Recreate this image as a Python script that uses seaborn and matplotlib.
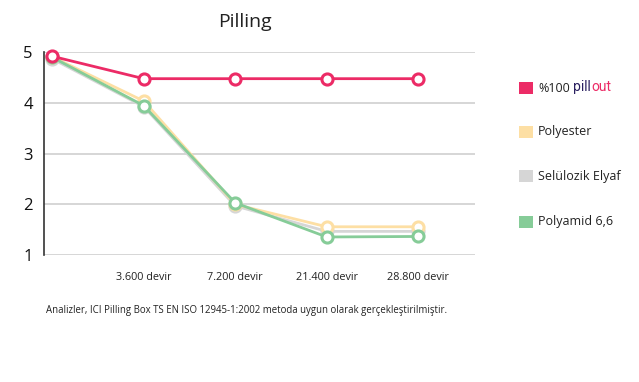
import matplotlib
matplotlib.use("Agg")
import matplotlib.pyplot as plt
import seaborn as sns
import pandas as pd
from matplotlib.patches import Rectangle

categories = ["", "3.600 devir", "7.200 devir", "21.400 devir", "28.800 devir"]
pillout = [4.91, 4.47, 4.47, 4.47, 4.47]
polyester = [4.90, 4.03, 2.00, 1.56, 1.56]
seluloz = [4.86, 3.92, 1.97, 1.47, 1.47]
polyamid = [4.89, 3.94, 2.03, 1.36, 1.37]

series_names = ["%100 pillout", "Polyester", "Selülozik Elyaf", "Polyamid 6,6"]
colors = ["#EC2B66", "#FDDFA4", "#D6D6D6", "#86CC98"]

rows = []
for name, vals in zip(series_names, [pillout, polyester, seluloz, polyamid]):
    for i, v in enumerate(vals):
        rows.append({"pos": i, "value": v, "series": name})
df = pd.DataFrame(rows)

sns.set_style("white")
plt.rcParams["font.family"] = ["Open Sans", "DejaVu Sans"]

fig = plt.figure(figsize=(6.39, 3.82), dpi=100)
ax = fig.add_axes([44/639, 1-255.3/382, (475-44)/639, (255.3-51.7)/382])

draw_order = ["Selülozik Elyaf", "Polyester", "Polyamid 6,6", "%100 pillout"]
for name in draw_order:
    c = colors[series_names.index(name)]
    sub = df[df.series == name]
    sns.lineplot(data=sub, x="pos", y="value", ax=ax, color=c, linewidth=2.0,
                 marker="o", markersize=8, markerfacecolor="white",
                 markeredgecolor=c, markeredgewidth=2.2, clip_on=False,
                 legend=False, zorder=3)

ax.set_xlim(-0.09, 4.62)
ax.set_ylim(1, 5)
ax.set_yticks([1, 2, 3, 4, 5])
ax.set_xticks(range(len(categories)))
ax.set_xticklabels(categories, fontsize=7.8, color="#222222")
ax.tick_params(axis="x", length=0, pad=12)
ax.tick_params(axis="y", length=5, width=1.2, color="#333333", labelsize=12,
               labelcolor="#111111", pad=3)
for v in [1, 2, 3, 4, 5]:
    ax.axhline(v, color="#D0D0D0", linewidth=1.2, zorder=1)
ax.set_xlabel("")
ax.set_ylabel("")
for s in ["top", "right", "bottom"]:
    ax.spines[s].set_visible(False)
ax.spines["left"].set_color("#333333")
ax.spines["left"].set_linewidth(1.2)

fig.text(245/639, 1-22/382, "Pilling", ha="center", va="center", fontsize=14,
         color="#222222")
fig.text(46/639, 1-310/382,
         "Analizler, ICI Pilling Box TS EN ISO 12945-1:2002 metoda uygun olarak gerçekleştirilmiştir.",
         ha="left", va="center", fontsize=6.95, color="#222222")

legend_y = [88, 132, 176, 222]
labels = ["%100", "Polyester", "Selülozik Elyaf", "Polyamid 6,6"]
for y, lab, c in zip(legend_y, labels, colors):
    fig.patches.append(Rectangle((519/639, 1-(y+6)/382), 14/639, 12/382,
                                 transform=fig.transFigure, facecolor=c,
                                 edgecolor="none"))
    fig.text(538/639, 1-y/382, lab, ha="left", va="center", fontsize=9,
             color="#222222", fontweight="medium")

logo_family = ["Roboto", "DejaVu Sans"]
fig.text(573/639, 1-87/382, "pill", ha="left", va="center", fontsize=10,
         color="#2A2060", family=logo_family)
fig.text(591/639, 1-87/382, "out", ha="left", va="center", fontsize=10,
         color="#EC2B66", family=logo_family)

fig.savefig("out.png", dpi=100)
